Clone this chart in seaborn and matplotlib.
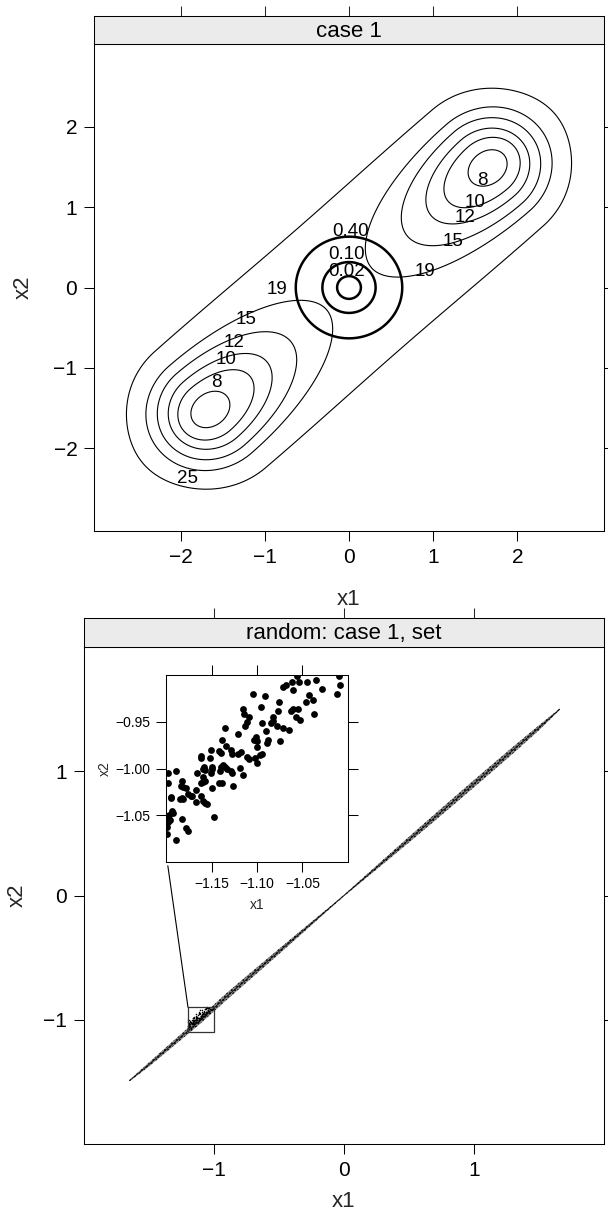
import numpy as np
import pandas as pd
import matplotlib
matplotlib.use("Agg")
import matplotlib.pyplot as plt
import seaborn as sns

sns.set_theme(style="white")
plt.rcParams["font.family"] = ["Liberation Sans", "DejaVu Sans"]

# ---------------- data ----------------
title_top = "case 1"
title_bottom = "random: case 1, set"

# thick contours: f1 = x1^2 + x2^2
f1_levels = [0.02, 0.10, 0.40]
# thin contours: f2 (bimodal objective); each level is an egg-shaped curve
# around each minimum, read from the picture as semi-axes
f2_levels = [8, 10, 12, 15, 19, 25]
f2_modes_x1 = [-1.65, 1.65]
f2_modes_x2 = [-1.52, 1.49]
f2_axis = [3.30, 3.01]                                   # direction joining minima
f2_semi_out = [0.25, 0.41, 0.52, 0.65, 0.79, 0.98]       # away from centre
f2_semi_in = [0.26, 0.63, 0.90, 1.28, 1.85, 4.80]        # towards centre
f2_semi_cross = [0.20, 0.35, 0.47, 0.60, 0.73, 0.97]     # across diagonal

# contour label positions (text centres, x1 / x2)
f2_label_text = ["8", "10", "12", "15", "19", "25", "8", "10", "12", "15", "19"]
f2_label_x1 = [-1.578, -1.459, -1.364, -1.222, -0.854, -1.922,
               1.590, 1.495, 1.376, 1.234, 0.902]
f2_label_x2 = [-1.183, -0.897, -0.685, -0.399, -0.025, -2.379,
               1.333, 1.059, 0.872, 0.573, 0.199]
f1_label_text = ["0.40", "0.10", "0.02"]
f1_label_x1 = [0.024, -0.024, -0.024]
f1_label_x2 = [0.697, 0.411, 0.205]

top_ticks = [-2, -1, 0, 1, 2]
bot_ticks = [-1, 0, 1]
inset_xticks = [-1.15, -1.10, -1.05]
inset_yticks = [-0.95, -1.00, -1.05]

# Pareto-set band: x1 positions, centre x2, half width
band_x1 = [-1.65, -1.50, -1.30, -1.10, -0.90, -0.70, -0.50, -0.30, -0.10, 0.00,
           0.10, 0.30, 0.50, 0.70, 0.90, 1.10, 1.30, 1.50, 1.66]
band_x2 = [-1.49, -1.36, -1.18, -1.00, -0.81, -0.63, -0.45, -0.27, -0.09, 0.00,
           0.09, 0.27, 0.45, 0.63, 0.81, 0.99, 1.17, 1.35, 1.50]
band_hw = [0.006, 0.016, 0.022, 0.027, 0.028, 0.025, 0.021, 0.015, 0.008, 0.006,
           0.010, 0.017, 0.023, 0.027, 0.029, 0.029, 0.027, 0.020, 0.006]

# zoomed points (inset)
inset_x1 = [-1.056, -1.045, -1.035, -1.010, -1.009, -1.029, -1.012, -1.054, -1.062, -1.068,
            -1.071, -1.060, -1.104, -1.091, -1.076, -1.043, -1.046, -1.038, -1.096, -1.115,
            -1.114, -1.109, -1.111, -1.113, -1.063, -1.060, -1.055, -1.057, -1.053, -1.037,
            -1.077, -1.082, -1.082, -1.085, -1.078, -1.071, -1.065, -1.095, -1.135, -1.121,
            -1.090, -1.101, -1.103, -1.100, -1.088, -1.089, -1.075, -1.138, -1.134, -1.129,
            -1.127, -1.142, -1.140, -1.151, -1.118, -1.121, -1.111, -1.109, -1.095, -1.100,
            -1.097, -1.102, -1.100, -1.162, -1.161, -1.152, -1.158, -1.157, -1.159, -1.149,
            -1.150, -1.151, -1.137, -1.135, -1.140, -1.141, -1.133, -1.129, -1.127, -1.119,
            -1.115, -1.166, -1.159, -1.157, -1.162, -1.159, -1.142, -1.139, -1.126, -1.149,
            -1.189, -1.198, -1.198, -1.182, -1.184, -1.181, -1.178, -1.176, -1.173, -1.171,
            -1.167, -1.162, -1.167, -1.159, -1.157, -1.155, -1.194, -1.195, -1.185, -1.182,
            -1.181, -1.193, -1.192, -1.197, -1.199, -1.196, -1.198, -1.182, -1.178, -1.176,
            -1.199, -1.199, -1.189, -1.147]
inset_x2 = [-0.901, -0.907, -0.905, -0.901, -0.911, -0.915, -0.920, -0.907, -0.908, -0.911,
            -0.913, -0.916, -0.920, -0.922, -0.929, -0.921, -0.929, -0.927, -0.934, -0.936,
            -0.942, -0.945, -0.950, -0.955, -0.938, -0.936, -0.936, -0.945, -0.948, -0.942,
            -0.939, -0.945, -0.949, -0.951, -0.955, -0.957, -0.959, -0.951, -0.957, -0.963,
            -0.960, -0.966, -0.970, -0.971, -0.970, -0.973, -0.971, -0.969, -0.976, -0.980,
            -0.984, -0.981, -0.983, -0.980, -0.982, -0.985, -0.988, -0.990, -0.984, -0.977,
            -0.986, -0.989, -0.994, -0.987, -0.989, -0.989, -0.998, -1.002, -1.000, -0.998,
            -1.000, -1.005, -0.996, -0.998, -0.998, -1.003, -1.000, -1.003, -1.005, -0.999,
            -1.007, -1.005, -1.009, -1.013, -1.016, -1.014, -1.015, -1.016, -1.019, -1.021,
            -1.003, -1.005, -1.016, -1.013, -1.019, -1.020, -1.021, -1.027, -1.029, -1.029,
            -1.023, -1.029, -1.036, -1.035, -1.037, -1.038, -1.030, -1.032, -1.033, -1.032,
            -1.033, -1.045, -1.048, -1.050, -1.054, -1.055, -1.057, -1.054, -1.064, -1.067,
            -1.063, -1.070, -1.077, -1.052]

inset_xlim = (-1.2, -1.0)
inset_ylim = (-1.1, -0.9)

# ---------------- figure ----------------
W, H = 608, 1216
fig = plt.figure(figsize=(W / 100, H / 100), dpi=100)
fig.patch.set_facecolor("white")


def fa(x0, y0, x1, y1):
    return [x0 / W, 1 - y1 / H, (x1 - x0) / W, (y1 - y0) / H]


LW = 0.75
TICKLEN = 7.0
FS_TICK = 15
FS_LAB = 16
FS_STRIP = 16
FS_CLAB = 13.5


def minus(s):
    return s.replace("-", "\u2212")


def style_panel(ax, ticks, lim):
    for s in ax.spines.values():
        s.set_linewidth(LW)
        s.set_color("black")
    ax.set_xlim(*lim)
    ax.set_ylim(*lim)
    ax.set_xticks(ticks)
    ax.set_yticks(ticks)
    ax.set_xticklabels([minus(str(t)) for t in ticks])
    ax.set_yticklabels([minus(str(t)) for t in ticks])
    ax.tick_params(axis="both", which="both", direction="out", length=TICKLEN,
                   width=LW, labelsize=FS_TICK, colors="black",
                   bottom=True, left=True, right=True, top=False,
                   labelright=False, labeltop=False, pad=5)
    ax.set_facecolor("white")


def strip(rect, text, xlim, ticks):
    s = fig.add_axes(rect)
    s.set_facecolor("#ebebeb")
    for sp in s.spines.values():
        sp.set_linewidth(LW)
        sp.set_color("black")
    s.set_xlim(*xlim)
    s.set_ylim(0, 1)
    s.set_xticks(ticks)
    s.set_yticks([])
    s.tick_params(axis="x", direction="out", length=TICKLEN, width=LW,
                  top=True, bottom=False, labeltop=False, labelbottom=False)
    s.text(0.5, 0.45, text, transform=s.transAxes, ha="center", va="center",
           fontsize=FS_STRIP, color="black")
    return s


# ---------- top panel: contours ----------
lim_top = (-3.03, 3.03)
ax1 = fig.add_axes(fa(94, 44, 604, 531))
strip(fa(94, 16, 604, 44), title_top, lim_top, top_ticks)
style_panel(ax1, top_ticks, lim_top)

g = np.linspace(-3.1, 3.1, 701)
X1, X2 = np.meshgrid(g, g)
F1 = X1 ** 2 + X2 ** 2
ax1.contour(X1, X2, F1, levels=f1_levels, colors="black", linewidths=1.8)

e = np.array(f2_axis) / np.hypot(*f2_axis)
n = np.array([-e[1], e[0]])
TAU = 0.3   # smooth union of the two lobes
for a_out, a_in, b in zip(f2_semi_out, f2_semi_in, f2_semi_cross):
    eggs = []
    for m1, m2 in zip(f2_modes_x1, f2_modes_x2):
        d1, d2 = X1 - m1, X2 - m2
        outward = np.sign(m1 * e[0] + m2 * e[1])
        along = outward * (d1 * e[0] + d2 * e[1])          # >0 away from centre
        across = d1 * n[0] + d2 * n[1]
        a = np.where(along > 0, a_out, a_in)
        eggs.append((along / a) ** 2 + (across / b) ** 2)
    lo = np.minimum(*eggs)
    union = lo - TAU * np.log1p(np.exp(-(np.maximum(*eggs) - lo) / TAU))
    ax1.contour(X1, X2, union, levels=[1.0], colors="black", linewidths=0.8)

for txt, x, y in zip(f2_label_text, f2_label_x1, f2_label_x2):
    ax1.text(x, y, txt, fontsize=FS_CLAB, ha="center", va="center", color="black")
for txt, x, y in zip(f1_label_text, f1_label_x1, f1_label_x2):
    ax1.text(x, y, txt, fontsize=FS_CLAB, ha="center", va="center", color="black")

ax1.set_xlabel("x1", fontsize=FS_LAB, labelpad=16)
ax1.set_ylabel("x2", fontsize=FS_LAB, labelpad=14)

# ---------- bottom panel: set ----------
lim_bot = (-2.0, 2.0)
ax2 = fig.add_axes(fa(84, 647, 604, 1144))
strip(fa(84, 618, 604, 647), title_bottom, lim_bot, bot_ticks)
style_panel(ax2, bot_ticks, lim_bot)

plt.rcParams["hatch.linewidth"] = 1.0
band = pd.DataFrame({"x1": band_x1, "x2": band_x2, "hw": band_hw})
ax2.fill_between(band["x1"], band["x2"] - band["hw"], band["x2"] + band["hw"],
                 facecolor="#8a8a8a", edgecolor="black", hatch=".....", linewidth=0)
ax2.plot(band["x1"], band["x2"], color="black", lw=0.5)

pts = pd.DataFrame({"x1": inset_x1, "x2": inset_x2})
sns.scatterplot(data=pts, x="x1", y="x2", ax=ax2, s=1.2, color="black",
                edgecolor=None, linewidth=0, legend=False)

ax2.plot([inset_xlim[0], inset_xlim[1], inset_xlim[1], inset_xlim[0], inset_xlim[0]],
         [inset_ylim[0], inset_ylim[0], inset_ylim[1], inset_ylim[1], inset_ylim[0]],
         color="#333333", lw=0.9)
ax2.set_xlabel("x1", fontsize=FS_LAB, labelpad=8)
ax2.set_ylabel("x2", fontsize=FS_LAB, labelpad=11)

# inset
ax3 = fig.add_axes(fa(166, 675, 348, 862))
sns.scatterplot(data=pts, x="x1", y="x2", ax=ax3, s=24, color="black",
                edgecolor=None, linewidth=0, legend=False)
for s in ax3.spines.values():
    s.set_linewidth(LW)
    s.set_color("black")
ax3.set_xlim(*inset_xlim)
ax3.set_ylim(*inset_ylim)
ax3.set_xticks(inset_xticks)
ax3.set_yticks(inset_yticks)
ax3.set_xticklabels([minus(f"{t:.2f}") for t in inset_xticks])
ax3.set_yticklabels([minus(f"{t:.2f}") for t in inset_yticks])
ax3.tick_params(axis="both", direction="out", length=TICKLEN, width=LW,
                labelsize=10, colors="black", top=True, right=True,
                bottom=True, left=True, labeltop=False, labelright=False, pad=4)
ax3.set_xlabel("x1", fontsize=10, labelpad=5)
ax3.set_ylabel("x2", fontsize=10, labelpad=3)

p_from = ax3.transAxes.transform((0.01, -0.02))
p_to = ax2.transData.transform((inset_xlim[0], inset_ylim[1]))
inv = ax2.transData.inverted()
a_ = inv.transform(p_from)
b_ = inv.transform(p_to)
ax2.plot([a_[0], b_[0]], [a_[1], b_[1]], color="black", lw=0.8)

fig.savefig("out.png", dpi=100, facecolor="white")
